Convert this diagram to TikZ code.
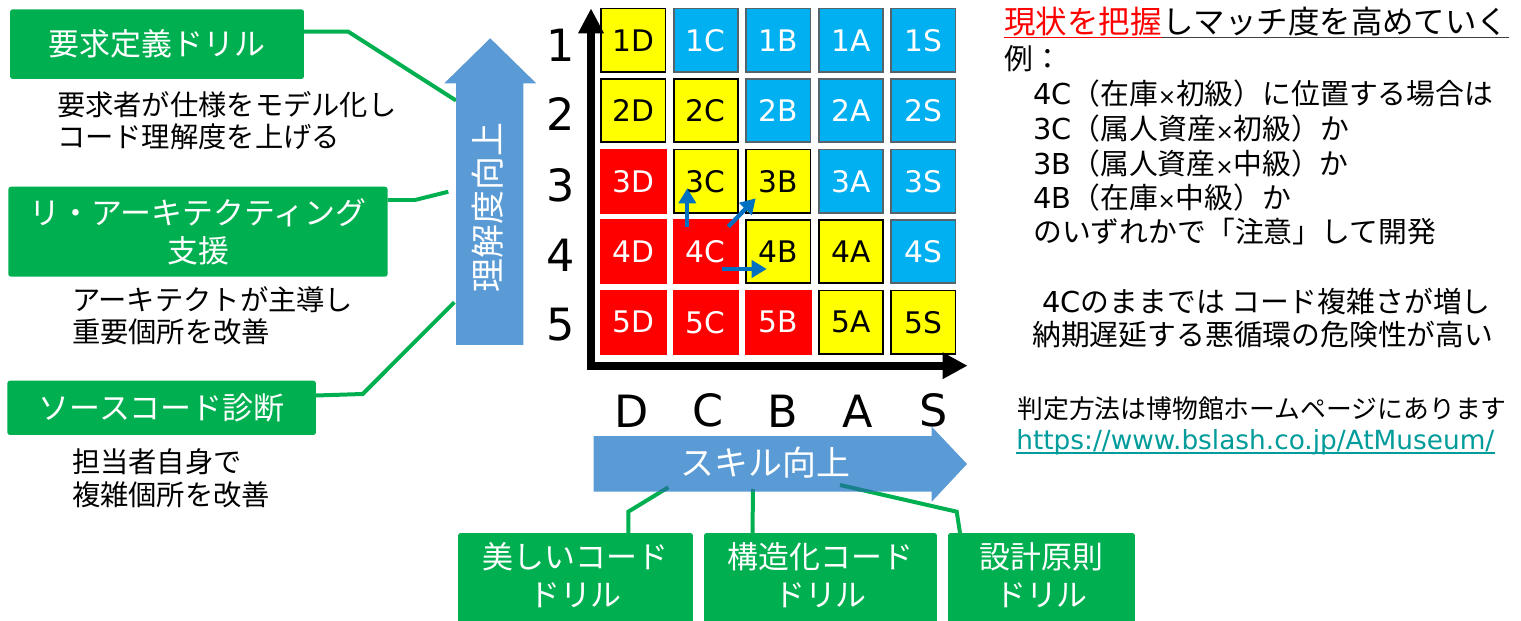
\documentclass[tikz,border=0pt]{standalone}
\usepackage{fontspec}
\setmainfont{Noto Sans CJK JP}
\newfontfamily\lat{DejaVu Sans}
\usetikzlibrary{arrows.meta}
\newcommand\fsz[2]{\fontsize{#1pt}{#2pt}\selectfont}
\newcommand\tms{\makebox[0.62em]{\lat\fsz{12.5}{14}×}}
\definecolor{gbox}{HTML}{00B050}
\definecolor{barrow}{HTML}{5B9BD5}
\definecolor{cblue}{HTML}{00B0F0}
\definecolor{cblueb}{HTML}{56636B}
\definecolor{cyel}{HTML}{FFFF00}
\definecolor{cred}{HTML}{FF0000}
\definecolor{darr}{HTML}{0070C0}
\definecolor{linkc}{HTML}{009B9B}
\definecolor{tealov}{HTML}{17808A}
\begin{document}
\begin{tikzpicture}[x=0.02cm,y=-0.02cm,
  gboxst/.style={fill=gbox,text=white,rounded corners=1.5pt,inner sep=0pt,align=center,font=\fsz{17.6}{21.7}},
  descst/.style={anchor=west,align=left,inner sep=0pt,font=\fsz{16.1}{18.4}},
  gline/.style={draw=gbox,line width=2.27pt},
  cellst/.style={inner sep=0pt,font=\lat\fsz{16.9}{20}},
  cellY/.style={cellst,fill=cyel,draw=black,line width=1.13pt,minimum width=1.29cm,minimum height=1.27cm},
  cellB/.style={cellst,fill=cblue,draw=cblueb,line width=1.13pt,text=white,minimum width=1.29cm,minimum height=1.27cm},
  cellR/.style={cellst,fill=cred,text=white,minimum width=1.33cm,minimum height=1.31cm},
  biglab/.style={inner sep=0pt,font=\lat\fsz{25.3}{30}},
  rtext/.style={anchor=west,inner sep=0pt,font=\fsz{16.4}{20}},
  arrlab/.style={inner sep=0pt,text=white,font=\fsz{19.3}{23}},
  smallarr/.style={draw=darr,line width=2.44pt,-{Triangle[length=0.3cm,width=0.34cm]}},
  axisst/.style={line width=4.5pt,line join=miter,{Triangle[length=0.5cm,width=0.48cm]}-{Triangle[length=0.5cm,width=0.5cm]}}
]
\useasboundingbox (0,0) rectangle (1521,621);
\clip (0,0) rectangle (1521,621);
\fill[white] (0,0) rectangle (1521,621);

% ---------- left green boxes and descriptions
\node[gboxst,minimum width=5.88cm,minimum height=1.394cm] (b1) at (157,44.15) {要求定義ドリル};
\node[gboxst,minimum width=7.588cm,minimum height=1.8cm] (b2) at (198,231.7) {リ・アーキテクティング\\支援};
\node[gboxst,minimum width=6.174cm,minimum height=1.086cm] (b3) at (161.65,407.85) {ソースコード診断};
\node[descst] (d1) at (56.7,120.8) {要求者が仕様をモデル化し\\コード理解度を上げる};
\node[descst] (d2) at (71.7,315.4) {アーキテクトが主導し\\重要個所を改善};
\node[descst] (d3) at (71.7,478.3) {担当者自身で\\複雑個所を改善};

% ---------- bottom green boxes (they run off the lower edge)
\fill[gbox] (458,600) rectangle (693,630);
\fill[gbox] (704,600) rectangle (937,630);
\fill[gbox] (948,600) rectangle (1135,630);
\node[gboxst,minimum width=4.7cm,minimum height=1.68cm] (bb1) at (575.5,575) {美しいコード\\ドリル};
\node[gboxst,minimum width=4.66cm,minimum height=1.68cm] (bb2) at (820.5,575) {構造化コード\\ドリル};
\node[gboxst,minimum width=3.74cm,minimum height=1.68cm] (bb3) at (1041.5,575) {設計原則\\ドリル};

% ---------- connector coordinates
\coordinate (l1a) at (304,31.7);   \coordinate (l1b) at (348.3,31.7);  \coordinate (l1c) at (456,100.5);
\coordinate (l2a) at (387.7,200);  \coordinate (l2b) at (415,200);     \coordinate (l2c) at (448.3,191.7);
\coordinate (l3a) at (316,395.5);  \coordinate (l3b) at (362.7,394);   \coordinate (l3c) at (454.3,302.3);
\coordinate (m1a) at (628.3,533);  \coordinate (m1b) at (628.3,511.7); \coordinate (m1c) at (668.3,487.3);
\coordinate (m2a) at (752.5,533);  \coordinate (m2c) at (753,489);
\coordinate (m3a) at (960,533);    \coordinate (m3b) at (956.7,511.7); \coordinate (m3c) at (840,485);

\draw[gline] (l1a) -- (l1b) -- (l1c);
\draw[gline] (l2a) -- (l2b) -- (l2c);
\draw[gline] (l3a) -- (l3b) -- (l3c);
\draw[gline] (m1a) -- (m1b) -- (m1c);
\draw[gline] (m2a) -- (m2c);
\draw[gline] (m3a) -- (m3b) -- (m3c);

% ---------- block arrows
\fill[barrow] (456,345) -- (523.3,345) -- (523.3,83.3) -- (536.2,83.3) -- (490.2,38.3) -- (444.3,83.3) -- (456,83.3) -- cycle;
\node[arrlab,rotate=90] (rk) at (488,207.5) {理解度向上};
\fill[barrow] (593.6,436) -- (931.7,436) -- (931.7,426.7) -- (967,464) -- (931.7,501.7) -- (931.7,491.7) -- (593.6,491.7) -- cycle;
\begin{scope}
  \clip (593.6,436) -- (931.7,436) -- (931.7,426.7) -- (967,464) -- (931.7,501.7) -- (931.7,491.7) -- (593.6,491.7) -- cycle;
  \draw[gline,draw=tealov] (m1a) -- (m1b) -- (m1c);
  \draw[gline,draw=tealov] (m2a) -- (m2c);
  \draw[gline,draw=tealov] (m3a) -- (m3b) -- (m3c);
\end{scope}
\node[arrlab] (sk) at (765.4,462.5) {スキル向上};

% ---------- grid cells
\foreach \i/\j/\L in {1/1/D,2/1/D,2/2/C,3/2/C,3/3/B,4/3/B,4/4/A,5/4/A,5/5/S}
  \node[cellY] (c\i\L) at ({633.25+72.5*(\j-1)},{40.25+70.5*(\i-1)}) {\i\L};
\foreach \i/\j/\L in {1/2/C,1/3/B,1/4/A,1/5/S,2/3/B,2/4/A,2/5/S,3/4/A,3/5/S,4/5/S}
  \node[cellB] (c\i\L) at ({633.25+72.5*(\j-1)},{40.25+70.5*(\i-1)}) {\i\L};
\foreach \i/\j/\L in {3/1/D,4/1/D,4/2/C,5/1/D,5/2/C,5/3/B}
  \node[cellR] (c\i\L) at ({633.25+72.5*(\j-1)},{40.25+70.5*(\i-1)}) {\i\L};

% ---------- axes
\coordinate (ytip) at (591,8.3);
\coordinate (orig) at (591,365.7);
\coordinate (xtip) at (967.6,365.7);
\draw[axisst] (ytip) -- (orig) -- (xtip);

\node[biglab] (r1) at (560.2,45) {1};
\node[biglab] (r2) at (560.2,114) {2};
\node[biglab] (r3) at (560.2,185) {3};
\node[biglab] (r4) at (560.2,255) {4};
\node[biglab] (r5) at (560.2,325) {5};
\node[biglab] (kD) at (632,410.8) {D};
\node[biglab] (kC) at (708.3,410.8) {C};
\node[biglab] (kB) at (782.8,410.8) {B};
\node[biglab] (kA) at (857.3,410.8) {A};
\node[biglab] (kS) at (933.5,410.8) {S};

% ---------- small blue arrows
\coordinate (s1a) at (687.3,226.7); \coordinate (s1b) at (687.3,188.3);
\coordinate (s2a) at (728.3,226.7); \coordinate (s2b) at (755.7,198.3);
\coordinate (s3a) at (721.7,269);   \coordinate (s3b) at (766.7,269);
\draw[smallarr] (s1a) -- (s1b);
\draw[smallarr] (s2a) -- (s2b);
\draw[smallarr] (s3a) -- (s3b);

% ---------- right text
\node[rtext,anchor=base west,text=red,font=\fsz{17.9}{21}] (t1) at (1004,34) {現状を把握};
\node[rtext,anchor=base west,font=\fsz{17.9}{21}] (t2) at (t1.base east) {しマッチ度を高めていく};
\draw[red,line width=1.13pt] ([yshift=-0.07cm]t1.base west) -- ([yshift=-0.07cm]t1.base east);
\draw[black!75,line width=1.13pt] ([yshift=-0.07cm]t2.base west) -- ([yshift=-0.07cm]t2.base east);
\node[rtext] (e0) at (1004,58.3) {例：};
\node[rtext] (e1) at (1033,93.3) {{\lat 4C}（在庫\tms 初級）に位置する場合は};
\node[rtext] (e2) at (1033,128.3) {{\lat 3C}（属人資産\tms 初級）か};
\node[rtext] (e3) at (1033,163.3) {{\lat 3B}（属人資産\tms 中級）か};
\node[rtext] (e4) at (1033,197.3) {{\lat 4B}（在庫\tms 中級）か};
\node[rtext] (e5) at (1033,231.7) {のいずれかで「注意」して開発};
\node[rtext] (w1) at (1042,301.7) {{\lat 4C}のままでは コード複雑さが増し};
\node[rtext] (w2) at (1032,335) {納期遅延する悪循環の危険性が高い};
\node[rtext,font=\fsz{14.7}{18}] (h1) at (1017,408.3) {判定方法は博物館ホームページにあります};
\node[rtext,anchor=base west,text=linkc,font=\lat\fsz{15}{18}] (url) at (1016,449.3) {https://www.bslash.co.jp/AtMuseum/};
\draw[linkc,line width=1.13pt] ([yshift=-0.08cm]url.base west) -- ([yshift=-0.08cm]url.base east);
\end{tikzpicture}
\end{document}
